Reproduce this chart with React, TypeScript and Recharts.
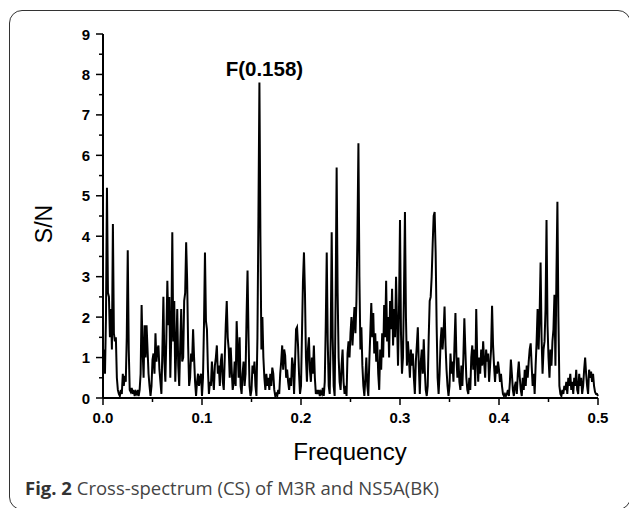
import { LineChart, Line, XAxis, YAxis, ReferenceDot } from "recharts";

// S/N values sampled every 0.001 in frequency, split by band
const band0 = [
  0.7, 1.2, 0.6, 2.0, 5.2, 2.6, 2.5, 1.5, 2.2, 1.2,
  4.3, 1.6, 1.4, 1.5, 0.5, 0.2, 0.1, 0.05, 0.2, 0.1,
  0.6, 0.3, 0.55, 0.4, 1.5, 3.65, 1.2, 0.2, 0.15, 0.25,
  0.1, 0.2, 0.05, 0.15, 0.1, 0.2, 0.05, 0.2, 0.6, 2.3,
  1.2, 0.5, 1.8, 1.0, 1.8, 1.2, 0.6, 0.3, 0.05, 0.3,
  0.95, 1.1, 0.6, 1.6, 0.9, 1.2, 1.3, 0.7, 0.4, 0.1,
  1.2, 2.5, 0.9, 0.4, 1.5, 2.9, 1.8, 2.5, 0.5, 1.6,
  4.1, 1.4, 2.4, 0.4, 1.2, 2.2, 0.8, 0.3, 1.3, 2.2,
  0.9, 1.0, 2.4, 2.6, 3.85, 2.9, 1.3, 0.3, 0.5, 1.1,
  0.9, 1.7, 1.0, 0.4, 0.05, 0.4, 0.6, 0.3, 0.5, 0.6,
];
const band1 = [
  0.05, 0.5, 1.8, 3.6, 1.9, 1.7, 0.7, 0.1, 0.4, 0.3,
  0.9, 0.5, 0.2, 0.8, 1.0, 1.3, 0.6, 0.8, 0.3, 0.9,
  1.1, 0.4, 0.2, 1.0, 1.8, 2.4, 1.5, 1.2, 0.5, 1.25,
  0.7, 0.2, 0.4, 0.9, 0.3, 1.9, 1.2, 0.5, 1.5, 0.3,
  0.1, 0.6, 0.9, 0.3, 0.6, 2.0, 3.15, 1.5, 0.3, 0.05,
  0.2, 0.8, 0.6, 0.9, 0.3, 0.05, 1.5, 4.5, 7.8, 4.0,
  1.2, 2.0, 1.0, 0.5, 0.2, 0.6, 0.3, 0.5, 0.2, 0.6,
  0.3, 0.75, 0.6, 0.2, 0.05, 0.1, 0.05, 0.2, 0.1, 0.6,
  0.9, 1.3, 0.7, 1.2, 1.05, 0.5, 0.7, 0.4, 0.2, 0.5,
  0.3, 1.0, 0.8, 0.1, 0.9, 1.7, 1.75, 1.3, 0.6, 0.1,
];
const band2 = [
  0.3, 1.6, 2.9, 3.6, 2.6, 1.0, 0.4, 1.2, 1.5, 0.7,
  0.4, 1.0, 0.6, 1.3, 0.5, 0.1, 0.2, 0.1, 0.2, 0.05,
  0.15, 0.1, 0.25, 0.05, 0.4, 1.8, 3.6, 1.4, 0.3, 0.1,
  1.5, 4.1, 1.5, 0.3, 0.05, 2.5, 5.7, 2.6, 1.0, 0.4,
  0.2, 0.8, 1.2, 0.4, 0.1, 0.3, 0.05, 1.1, 1.4, 1.0,
  1.6, 2.0, 1.3, 1.8, 2.25, 1.6, 2.4, 4.0, 6.3, 3.0,
  1.2, 1.75, 0.8, 0.3, 0.05, 0.5, 1.0, 0.3, 0.05, 0.9,
  1.6, 2.35, 1.5, 2.1, 1.1, 1.6, 0.9, 1.4, 0.6, 0.2,
  1.2, 0.7, 1.6, 1.0, 2.3, 1.5, 2.9, 1.4, 2.0, 1.0,
  2.4, 1.7, 2.7, 1.3, 2.2, 1.5, 3.0, 1.9, 0.8, 2.2,
];
const band3 = [
  4.4, 1.6, 0.6, 1.0, 2.6, 4.6, 2.0, 0.8, 1.4, 1.0,
  0.5, 1.2, 0.8, 1.1, 0.5, 0.1, 0.9, 1.3, 1.75, 0.8,
  0.1, 0.9, 1.2, 0.6, 1.45, 0.7, 0.2, 0.05, 0.3, 1.5,
  2.4, 2.5, 3.0, 3.8, 4.5, 4.6, 3.6, 1.8, 0.5, 0.1,
  0.6, 1.4, 1.75, 1.2, 1.6, 2.26, 1.3, 0.7, 0.3, 0.05,
  0.3, 1.1, 0.6, 0.9, 0.4, 1.3, 2.1, 1.0, 0.5, 1.0,
  0.4, 0.2, 0.8, 0.3, 1.0, 1.97, 1.2, 0.5, 0.2, 0.1,
  0.5, 0.2, 1.0, 1.3, 0.7, 1.2, 0.3, 2.2, 1.0, 0.4,
  1.0, 0.6, 1.2, 0.8, 1.4, 0.9, 0.5, 1.2, 0.9, 1.1,
  0.4, 0.8, 1.2, 2.28, 1.3, 0.8, 0.4, 0.8, 0.6, 0.9,
];
const band4 = [
  0.7, 0.4, 0.6, 0.3, 0.1, 0.05, 0.1, 0.05, 0.1, 0.2,
  0.05, 0.4, 0.95, 0.6, 0.2, 0.05, 0.3, 0.4, 0.1, 0.6,
  0.9, 0.5, 0.2, 0.05, 0.5, 0.2, 0.7, 0.3, 0.8, 0.5,
  0.9, 1.2, 1.35, 0.8, 0.3, 0.6, 0.1, 0.8, 1.4, 2.2,
  1.2, 2.0, 3.35, 1.5, 0.6, 1.2, 1.4, 2.2, 4.4, 1.8,
  1.0, 0.5, 1.2, 0.8, 1.4, 1.7, 2.55, 0.8, 3.0, 4.85,
  2.0, 0.3, 0.1, 0.05, 0.2, 0.1, 0.3, 0.2, 0.4, 0.1,
  0.5, 0.3, 0.6, 0.2, 0.4, 0.1, 0.5, 0.3, 0.7, 0.2,
  0.1, 0.6, 0.3, 0.5, 0.1, 0.3, 0.7, 1.0, 0.6, 0.3,
  0.1, 0.7, 0.5, 0.65, 0.4, 0.6, 0.3, 0.15, 0.1, 0.1,
  0.05,
];

const snValues = [...band0, ...band1, ...band2, ...band3, ...band4];
const STEP = 0.001;

const xTicks = [0, 0.05, 0.1, 0.15, 0.2, 0.25, 0.3, 0.35, 0.4, 0.45, 0.5];
const xLabels = ["0.0", "0.1", "0.2", "0.3", "0.4", "0.5"];
const yTicks = [0, 0.5, 1, 1.5, 2, 2.5, 3, 3.5, 4, 4.5, 5, 5.5, 6, 6.5, 7, 7.5, 8, 8.5, 9];

const peakFreq = 0.158;
const peakValue = 7.8;

const data = snValues.map((v, i) => ({ f: Number((i * STEP).toFixed(3)), sn: v }));

const tickFont = "'Liberation Sans', Arial, sans-serif";

const XTick = (props: any) => {
  const { x, y, payload } = props;
  const v = payload.value;
  const label = xLabels.find((l) => Math.abs(parseFloat(l) - v) < 1e-6);
  return (
    <g>
      <line x1={x} x2={x} y1={y} y2={y + (label ? 7 : 4)} stroke="#000" strokeWidth={1.5} />
      {label && (
        <text x={x} y={y + 25} textAnchor="middle" fontFamily={tickFont} fontWeight="bold" fontSize={15} fill="#000">
          {label}
        </text>
      )}
    </g>
  );
};

const YTick = (props: any) => {
  const { x, y, payload } = props;
  const v = payload.value;
  const major = Number.isInteger(v);
  return (
    <g>
      <line x1={x - (major ? 7 : 4)} x2={x} y1={y} y2={y} stroke="#000" strokeWidth={1.5} />
      {major && (
        <text x={x - 13} y={y + 5.5} textAnchor="end" fontFamily={tickFont} fontWeight="bold" fontSize={15} fill="#000">
          {v}
        </text>
      )}
    </g>
  );
};

const PeakLabel = (props: any) => (
  <text x={props.cx + 5} y={props.cy - 7} textAnchor="middle" fontFamily={tickFont} fontWeight="bold" fontSize={20.5} fill="#000">
    F({peakFreq})
  </text>
);

export default function App() {
  return (
    <div style={{ position: "absolute", left: 0, top: 0, width: 629, height: 508, overflow: "hidden", background: "#fff" }}>
      <div
        style={{
          position: "absolute",
          left: 9,
          top: 10,
          width: 620,
          height: 498,
          border: "1.5px solid #333",
          borderRadius: 13,
        }}
      />
      <div style={{ position: "absolute", left: 0, top: 0 }}>
        <LineChart width={629} height={430} data={data} margin={{ top: 34, right: 31, left: 0, bottom: 0 }}>
          <XAxis
            type="number"
            dataKey="f"
            domain={[0, 0.5]}
            ticks={xTicks}
            interval={0}
            tick={<XTick />}
            tickLine={false}
            tickSize={0}
            tickMargin={0}
            height={32}
            axisLine={{ stroke: "#000", strokeWidth: 2 }}
          />
          <YAxis
            type="number"
            domain={[0, 9]}
            ticks={yTicks}
            interval={0}
            tick={<YTick />}
            tickLine={false}
            tickSize={0}
            tickMargin={0}
            width={103}
            axisLine={{ stroke: "#000", strokeWidth: 2 }}
          />
          <Line
            type="linear"
            dataKey="sn"
            stroke="#000"
            strokeWidth={2}
            dot={false}
            isAnimationActive={false}
          />
          <ReferenceDot x={peakFreq} y={peakValue} r={0} shape={<PeakLabel />} />
        </LineChart>
      </div>
      <div
        style={{
          position: "absolute",
          left: 44,
          top: 224,
          transform: "translate(-50%, -50%) rotate(-90deg)",
          fontFamily: tickFont,
          fontSize: 23,
          color: "#000",
          whiteSpace: "nowrap",
        }}
      >
        S/N
      </div>
      <div
        style={{
          position: "absolute",
          left: 350,
          top: 438,
          transform: "translateX(-50%)",
          fontFamily: tickFont,
          fontSize: 24,
          color: "#000",
          whiteSpace: "nowrap",
        }}
      >
        Frequency
      </div>
      <div
        style={{
          position: "absolute",
          left: 25,
          top: 475,
          fontFamily: "'Open Sans', 'Noto Sans', sans-serif",
          fontSize: 18.5,
          color: "#444",
          whiteSpace: "nowrap",
        }}
      >
        <span style={{ fontWeight: "bold", color: "#333" }}>Fig. 2</span> Cross-spectrum (CS) of M3R and NS5A(BK)
      </div>
    </div>
  );
}
